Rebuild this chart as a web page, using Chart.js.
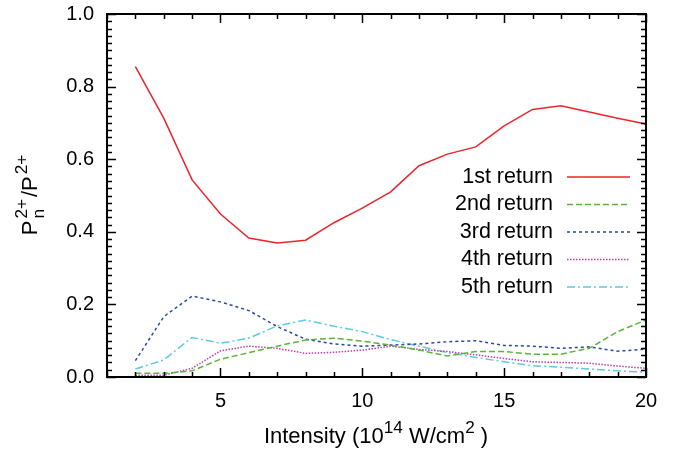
<!DOCTYPE html>
<html>
<head>
<meta charset="utf-8">
<script src="https://cdn.jsdelivr.net/npm/chart.js@4/dist/chart.umd.min.js"></script>
<style>
  html, body { margin: 0; padding: 0; background: #fff; }
  #wrap { width: 679px; height: 451px; }
</style>
</head>
<body>
<div id="wrap"><canvas id="plot" width="679" height="451"></canvas></div>
<script>
// Return-resolved double-ionization ratio vs. laser intensity
const intensity = [2, 3, 4, 5, 6, 7, 8, 9, 10, 11, 12, 13, 14, 15, 16, 17, 18, 19, 20];
const ret1 = [0.855, 0.713, 0.543, 0.449, 0.383, 0.369, 0.377, 0.425, 0.465, 0.510, 0.582, 0.614, 0.634, 0.692, 0.737, 0.747, 0.730, 0.713, 0.697];
const ret2 = [0.010, 0.010, 0.017, 0.049, 0.067, 0.085, 0.102, 0.107, 0.099, 0.088, 0.074, 0.058, 0.070, 0.070, 0.063, 0.063, 0.079, 0.125, 0.157];
const ret3 = [0.045, 0.166, 0.223, 0.207, 0.183, 0.139, 0.104, 0.091, 0.085, 0.088, 0.091, 0.097, 0.100, 0.087, 0.085, 0.079, 0.083, 0.071, 0.077];
const ret4 = [0.005, 0.005, 0.024, 0.072, 0.085, 0.079, 0.065, 0.068, 0.074, 0.085, 0.076, 0.070, 0.061, 0.051, 0.042, 0.040, 0.038, 0.030, 0.024];
const ret5 = [0.022, 0.047, 0.109, 0.093, 0.107, 0.141, 0.157, 0.140, 0.125, 0.103, 0.085, 0.067, 0.054, 0.042, 0.031, 0.027, 0.022, 0.017, 0.013];

const xTicks = [5, 10, 15, 20];
const yTicks = [0, 0.2, 0.4, 0.6, 0.8, 1.0];

const FONT = '"Liberation Sans", Arial, sans-serif';

const series = [
  { label: '1st return', data: ret1, color: '#e8262b', dash: [] },
  { label: '2nd return', data: ret2, color: '#5ab53a', dash: [6, 3] },
  { label: '3rd return', data: ret3, color: '#2a48a6', dash: [3, 3] },
  { label: '4th return', data: ret4, color: '#c13ca8', dash: [1.5, 1.5] },
  { label: '5th return', data: ret5, color: '#5ccbdf', dash: [8, 3, 2, 3] }
];

// text with superscript / subscript pieces: [[text, 'n'|'sup'|'sub', noAdvance], ...]
const SMALL = 0.78;
function richWidth(ctx, parts, size, gap) {
  let w = 0;
  parts.forEach(p => {
    ctx.font = (p[1] === 'n' ? size : size * SMALL) + 'px ' + FONT;
    if (!p[2]) w += ctx.measureText(p[0]).width + gap;
  });
  return w - gap;
}
function drawRich(ctx, parts, x, y, size, gap) {
  let cx = x;
  parts.forEach(p => {
    const small = p[1] !== 'n';
    ctx.font = (small ? size * SMALL : size) + 'px ' + FONT;
    const dy = p[1] === 'sup' ? -size * 0.45 : p[1] === 'sub' ? size * 0.3 : 0;
    ctx.fillText(p[0], cx, y + dy);
    if (!p[2]) cx += ctx.measureText(p[0]).width + gap;
  });
}

const framePlugin = {
  id: 'frame',
  afterDraw(chart) {
    const { ctx, chartArea: a, scales } = chart;
    const xs = scales.x, ys = scales.y;
    ctx.save();
    ctx.strokeStyle = '#000';
    ctx.fillStyle = '#000';
    ctx.lineWidth = 2;
    ctx.setLineDash([]);
    ctx.strokeRect(a.left, a.top, a.right - a.left, a.bottom - a.top);

    // inward ticks on all four sides
    ctx.lineWidth = 1.5;
    ctx.beginPath();
    for (let v = 1; v <= 20; v++) {
      const px = Math.round(xs.getPixelForValue(v)) + 0.5;
      const len = v % 5 === 0 ? 9 : 5;
      ctx.moveTo(px, a.bottom); ctx.lineTo(px, a.bottom - len);
      ctx.moveTo(px, a.top); ctx.lineTo(px, a.top + len);
    }
    for (let i = 0; i <= 50; i++) {
      const py = Math.round(ys.getPixelForValue(i * 0.02)) + 0.5;
      const len = i % 10 === 0 ? 9 : 5;
      ctx.moveTo(a.left, py); ctx.lineTo(a.left + len, py);
      ctx.moveTo(a.right, py); ctx.lineTo(a.right - len, py);
    }
    ctx.stroke();

    // tick labels
    ctx.font = '20px ' + FONT;
    ctx.textBaseline = 'middle';
    ctx.textAlign = 'center';
    xTicks.forEach(v => ctx.fillText(String(v), xs.getPixelForValue(v), a.bottom + 24));
    ctx.textAlign = 'right';
    yTicks.forEach(v => ctx.fillText(v.toFixed(1), a.left - 13, ys.getPixelForValue(v)));

    // x-axis title
    ctx.textAlign = 'left';
    ctx.textBaseline = 'alphabetic';
    const xt = [['Intensity (10', 'n'], ['14', 'sup'], [' W/cm', 'n'], ['2', 'sup'], [' )', 'n']];
    const w = richWidth(ctx, xt, 22, 0);
    drawRich(ctx, xt, 376 - w / 2, 443, 22, 0);

    // y-axis title, rotated
    ctx.save();
    ctx.translate(37, 195);
    ctx.rotate(-Math.PI / 2);
    const yt = [['P', 'n'], ['n', 'sub', true], ['2+', 'sup'], ['/P', 'n'], ['2+', 'sup']];
    const wy = richWidth(ctx, yt, 22, 2);
    drawRich(ctx, yt, -wy / 2, 0, 22, 2);
    ctx.restore();

    // legend, inside the plot at the right
    ctx.font = '21.5px ' + FONT;
    ctx.textAlign = 'right';
    ctx.textBaseline = 'middle';
    ctx.lineWidth = 1.5;
    series.forEach((s, i) => {
      const ly = 177 + i * 27.5;
      ctx.fillStyle = '#000';
      ctx.fillText(s.label, 553, ly);
      ctx.strokeStyle = s.color;
      ctx.setLineDash(s.dash);
      ctx.beginPath();
      ctx.moveTo(567, ly); ctx.lineTo(630, ly);
      ctx.stroke();
    });
    ctx.restore();
  }
};

new Chart(document.getElementById('plot'), {
  type: 'line',
  data: {
    datasets: series.map(s => ({
      label: s.label,
      data: intensity.map((x, i) => ({ x, y: s.data[i] })),
      borderColor: s.color,
      borderDash: s.dash,
      borderWidth: 1.5,
      pointRadius: 0,
      tension: 0,
      fill: false
    }))
  },
  options: {
    responsive: false,
    animation: false,
    layout: { padding: { left: 107, right: 33, top: 14, bottom: 74 } },
    plugins: { legend: { display: false }, tooltip: { enabled: false } },
    scales: {
      x: { type: 'linear', min: 1, max: 20, display: false },
      y: { min: 0, max: 1, display: false }
    }
  },
  plugins: [framePlugin]
});
</script>
</body>
</html>
